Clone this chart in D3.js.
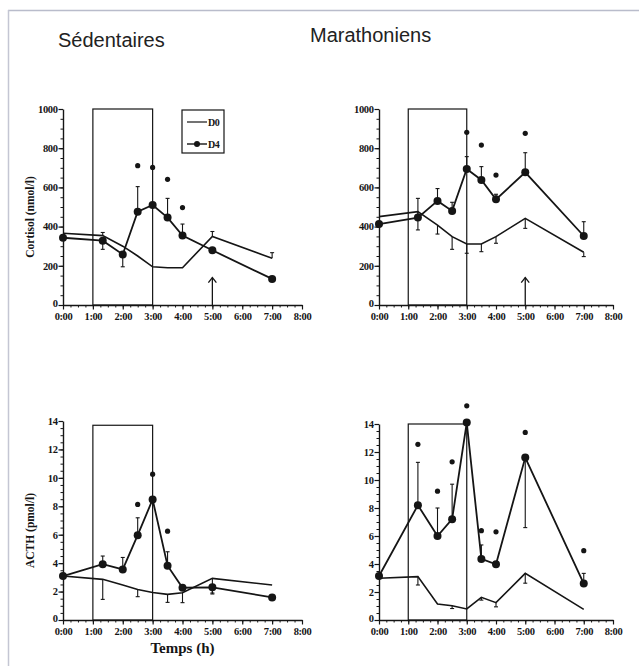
<!DOCTYPE html>
<html>
<head>
<meta charset="utf-8">
<script src="https://cdn.jsdelivr.net/npm/d3@7"></script>
<style>
  body { margin: 0; background: #fff; }
  svg { display: block; }
  .tick text { font-family: "Liberation Serif", "DejaVu Serif", serif; }
</style>
</head>
<body>
<div id="chart"></div>
<script>
// ---------------- data ----------------
const times = [0, 1.33, 2, 2.5, 3, 3.5, 4, 5, 7];
const hourTicks = [0, 1, 2, 3, 4, 5, 6, 7, 8];
const cortisolTicks = [0, 200, 400, 600, 800, 1000];
const acthTicks = [0, 2, 4, 6, 8, 10, 12, 14];
const groupTitles = ['Sédentaires', 'Marathoniens'];
const legendLabels = ['D0', 'D4'];

// cortisol, sedentaires (nmol/l)
const cortSedD0 = [366, 354, 300, 250, 195, 190, 190, 350, 238];
const cortSedD0Err = [null, 16, null, null, null, null, null, 25, 29];
const cortSedD4 = [343, 328, 258, 476, 510, 446, 354, 279, 133];
const cortSedD4Err = [null, -44, -63, 128, null, 98, 59, null, null];
const cortSedSig = [null, null, null, 711, 702, 641, 497, null, null];

// cortisol, marathoniens
const cortMarD0 = [451, 476, 408, 349, 311, 311, 349, 442, 269];
const cortMarD0Err = [null, -93, -46, -65, -47, -39, -34, -51, -22];
const cortMarD4 = [413, 446, 531, 480, 694, 638, 539, 677, 352];
const cortMarD4Err = [null, 98, 63, 44, 63, 68, 26, 100, 73];
const cortMarSig = [null, null, null, null, 881, 816, 663, 876, null];

// ACTH, sedentaires (pmol/l)
const acthSedD0 = [3.1, 2.86, 2.46, 2.15, 1.94, 1.8, 1.92, 2.93, 2.46];
const acthSedD0Err = [null, -1.41, null, -0.51, null, -0.56, -0.7, -1.1, null];
const acthSedD4 = [3.09, 3.93, 3.56, 5.97, 8.48, 3.82, 2.27, 2.3, 1.59];
const acthSedD4Err = [null, 0.57, 0.84, 1.22, null, 0.98, null, -0.4, null];
const acthSedSig = [null, null, null, 8.13, 10.26, 6.25, null, null, null];

// ACTH, marathoniens
const acthMarD0 = [2.98, 3.1, 1.14, 1.02, 0.79, 1.62, 1.24, 3.33, 0.76];
const acthMarD0Err = [null, -0.6, null, -0.2, null, -0.2, -0.3, -0.7, null];
const acthMarD4 = [3.14, 8.2, 6.0, 7.2, 14.1, 4.36, 3.98, 11.6, 2.6];
const acthMarD4Err = [null, 3.06, 2.0, 2.5, null, 1.0, null, -5.0, 0.73];
const acthMarSig = [null, 12.55, 9.2, 11.3, 15.3, 6.38, 6.3, 13.4, 4.95];

// exercise period (h) and arrow time
const exercise = [1, 3];
const arrowTime = 5;

// ---------------- layout ----------------
const W = 639, H = 666;
const ink = '#151515';

const svg = d3.select('#chart').append('svg')
    .attr('width', W)
    .attr('height', H);

svg.append('rect').attr('width', W).attr('height', H).attr('fill', '#fff');

// scan frame
svg.append('line').attr('x1', 8).attr('x2', W).attr('y1', 10.5).attr('y2', 10.5)
    .attr('stroke', '#b9bccb').attr('stroke-width', 1.5);
svg.append('line').attr('x1', 8.5).attr('x2', 8.5).attr('y1', 10).attr('y2', H)
    .attr('stroke', '#c4c6d3').attr('stroke-width', 1.5);

// titles
svg.append('text').attr('x', 58).attr('y', 47).text(groupTitles[0])
    .attr('font-family', 'Liberation Sans, Arial, sans-serif').attr('font-size', 20).attr('fill', '#222');
svg.append('text').attr('x', 310).attr('y', 42).text(groupTitles[1])
    .attr('font-family', 'Liberation Sans, Arial, sans-serif').attr('font-size', 20).attr('fill', '#222');

const panels = [
    { x0: 63, x1: 302, y0: 305, y1: 109, max: 1000, ticks: cortisolTicks, minor: 50, boxTop: 1000,
      d0: cortSedD0, d0Err: cortSedD0Err, d4: cortSedD4, d4Err: cortSedD4Err, sig: cortSedSig,
      ylabel: 'Cortisol (nmol/l)', arrow: 140, legend: true },
    { x0: 379, x1: 613, y0: 305, y1: 109, max: 1000, ticks: cortisolTicks, minor: 50, boxTop: 1000,
      d0: cortMarD0, d0Err: cortMarD0Err, d4: cortMarD4, d4Err: cortMarD4Err, sig: cortMarSig,
      arrow: 140 },
    { x0: 63, x1: 302, y0: 620, y1: 421, max: 14, ticks: acthTicks, minor: 0.5, boxTop: 13.7,
      d0: acthSedD0, d0Err: acthSedD0Err, d4: acthSedD4, d4Err: acthSedD4Err, sig: acthSedSig,
      ylabel: 'ACTH (pmol/l)', xlabel: 'Temps (h)' },
    { x0: 379, x1: 613, y0: 620, y1: 424, max: 14, ticks: acthTicks, minor: 0.5, boxTop: 14,
      d0: acthMarD0, d0Err: acthMarD0Err, d4: acthMarD4, d4Err: acthMarD4Err, sig: acthMarSig }
];

panels.forEach(drawPanel);

function drawPanel(p) {
    const x = d3.scaleLinear().domain([0, 8]).range([p.x0, p.x1]);
    const y = d3.scaleLinear().domain([0, p.max]).range([p.y0, p.y1]);
    const g = svg.append('g');

    // minor ticks first
    g.append('g').attr('transform', `translate(0,${p.y0})`)
        .call(d3.axisBottom(x).tickValues(d3.range(0, 8.01, 0.25)).tickSize(2.5).tickSizeOuter(0).tickFormat(''))
        .call(a => a.select('.domain').remove())
        .call(a => a.selectAll('line').attr('stroke', ink));
    g.append('g').attr('transform', `translate(${p.x0},0)`)
        .call(d3.axisLeft(y).tickValues(d3.range(0, p.max + 0.001, p.minor)).tickSize(2.5).tickSizeOuter(0).tickFormat(''))
        .call(a => a.select('.domain').remove())
        .call(a => a.selectAll('line').attr('stroke', ink));

    const xAxis = g.append('g').attr('transform', `translate(0,${p.y0})`)
        .call(d3.axisBottom(x).tickValues(hourTicks).tickSize(4.5).tickSizeOuter(0).tickPadding(3)
            .tickFormat(d => `${d}:00`));
    const yAxis = g.append('g').attr('transform', `translate(${p.x0},0)`)
        .call(d3.axisLeft(y).tickValues(p.ticks).tickSize(4.5).tickSizeOuter(0).tickPadding(1)
            .tickFormat(d3.format('d')));
    [xAxis, yAxis].forEach(a => {
        a.select('.domain').attr('stroke', ink).attr('stroke-width', 1.4);
        a.selectAll('.tick line').attr('stroke', ink).attr('stroke-width', 1.2);
        a.selectAll('.tick text').attr('fill', ink).attr('font-size', 10.5).attr('font-weight', 'bold')
            .attr('letter-spacing', -0.4);
    });
    // lift the zero label a little so it clears the time labels
    yAxis.selectAll('.tick').filter(d => d === 0).select('text').attr('dy', '0.1em');

    // exercise box
    g.append('rect')
        .attr('x', x(exercise[0])).attr('y', y(p.boxTop))
        .attr('width', x(exercise[1]) - x(exercise[0])).attr('height', y(0) - y(p.boxTop))
        .attr('fill', 'none').attr('stroke', ink).attr('stroke-width', 1.2);

    // arrow
    if (p.arrow) {
        const ax = x(arrowTime);
        g.append('line').attr('x1', ax).attr('x2', ax).attr('y1', y(0)).attr('y2', y(p.arrow))
            .attr('stroke', ink).attr('stroke-width', 1.3);
        g.append('path')
            .attr('d', `M${ax - 4},${y(p.arrow) + 5}L${ax},${y(p.arrow)}L${ax + 4},${y(p.arrow) + 5}`)
            .attr('fill', 'none').attr('stroke', ink).attr('stroke-width', 1.3);
    }

    const line = d3.line().x((d, i) => x(times[i])).y(d => y(d));

    // error bars
    const errBars = (vals, errs) => {
        errs.forEach((e, i) => {
            if (e == null) return;
            const cx = x(times[i]);
            g.append('line').attr('x1', cx).attr('x2', cx)
                .attr('y1', y(vals[i])).attr('y2', y(vals[i] + e))
                .attr('stroke', ink).attr('stroke-width', 1.1);
            g.append('line').attr('x1', cx - 2).attr('x2', cx + 2)
                .attr('y1', y(vals[i] + e)).attr('y2', y(vals[i] + e))
                .attr('stroke', ink).attr('stroke-width', 1.1);
        });
    };
    errBars(p.d0, p.d0Err);
    errBars(p.d4, p.d4Err);

    g.append('path').datum(p.d0).attr('d', line)
        .attr('fill', 'none').attr('stroke', ink).attr('stroke-width', 1.6);
    g.append('path').datum(p.d4).attr('d', line)
        .attr('fill', 'none').attr('stroke', ink).attr('stroke-width', 1.8);
    g.selectAll('.pt').data(p.d4).enter().append('circle')
        .attr('cx', (d, i) => x(times[i])).attr('cy', d => y(d)).attr('r', 4)
        .attr('fill', ink);

    // significance marks
    p.sig.forEach((s, i) => {
        if (s == null) return;
        g.append('circle').attr('cx', x(times[i])).attr('cy', y(s)).attr('r', 2.6).attr('fill', ink);
    });

    if (p.ylabel) {
        const cy = (p.y0 + p.y1) / 2 + 10;
        g.append('text').attr('transform', `translate(${p.x0 - 29},${cy}) rotate(-90)`)
            .attr('text-anchor', 'middle').text(p.ylabel)
            .attr('font-family', 'Liberation Serif, serif').attr('font-size', 11.5)
            .attr('font-weight', 'bold').attr('fill', ink);
    }
    if (p.xlabel) {
        g.append('text').attr('x', x(4)).attr('y', p.y0 + 33)
            .attr('text-anchor', 'middle').text(p.xlabel)
            .attr('font-family', 'Liberation Serif, serif').attr('font-size', 15)
            .attr('font-weight', 'bold').attr('fill', ink);
    }

    if (p.legend) {
        const lx = 182, ly = 110;
        g.append('rect').attr('x', lx).attr('y', ly).attr('width', 42).attr('height', 43)
            .attr('fill', '#fff').attr('stroke', ink).attr('stroke-width', 1.2);
        g.append('line').attr('x1', lx + 5).attr('x2', lx + 25).attr('y1', ly + 12).attr('y2', ly + 12)
            .attr('stroke', ink).attr('stroke-width', 1.2);
        g.append('line').attr('x1', lx + 5).attr('x2', lx + 25).attr('y1', ly + 34).attr('y2', ly + 34)
            .attr('stroke', ink).attr('stroke-width', 1.4);
        g.append('circle').attr('cx', lx + 15).attr('cy', ly + 34).attr('r', 3).attr('fill', ink);
        legendLabels.forEach((t, i) => {
            g.append('text').attr('x', lx + 26).attr('y', ly + 15.5 + i * 22).text(t)
                .attr('font-family', 'Liberation Serif, serif').attr('font-size', 10)
                .attr('font-weight', 'bold').attr('letter-spacing', -0.5).attr('fill', ink);
        });
    }
}
</script>
</body>
</html>
